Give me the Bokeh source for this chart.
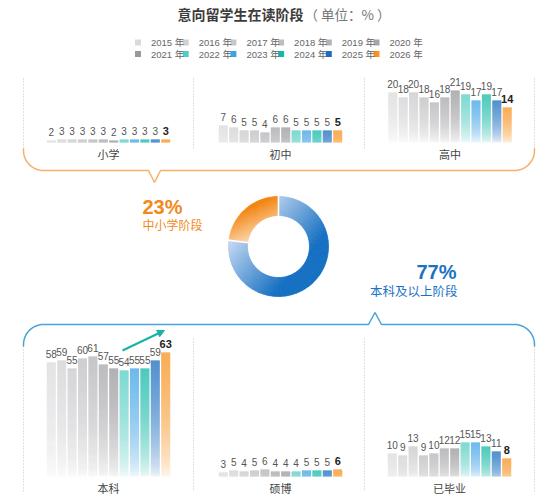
import math
import numpy as np
from bokeh.plotting import figure
from bokeh.models import Range1d, Arrow, NormalHead
from bokeh.core.properties import value
from bokeh.embed import file_html
from bokeh.resources import INLINE

# ---------------- data ----------------
years = ["2015", "2016", "2017", "2018", "2019", "2020",
         "2021", "2022", "2023", "2024", "2025", "2026"]
year_colors = ["#dadadc", "#d1d1d4", "#c8c8cb", "#bebec1", "#b3b3b7", "#a6a6aa",
               "#98989c", "#55cdc3", "#3ea3e6", "#13b9a7", "#1a6dc0", "#f7921e"]

primary_school = [2, 3, 3, 3, 3, 3, 2, 3, 3, 3, 3, 3]
middle_school = [7, 6, 5, 5, 4, 6, 6, 5, 5, 5, 5, 5]
high_school = [20, 18, 20, 18, 16, 18, 21, 19, 17, 19, 17, 14]
bachelor = [58, 59, 55, 60, 61, 57, 55, 54, 55, 55, 59, 63]
master_phd = [3, 5, 4, 5, 6, 4, 4, 4, 5, 5, 5, 6]
graduated = [10, 9, 13, 9, 10, 12, 12, 15, 15, 13, 11, 8]

share_names = ["中小学阶段", "本科及以上阶段"]
share_values = [23, 77]

title_main = "意向留学生在读阶段"
title_unit = "（ 单位：% ）"

# ---------------- canvas (data units == screen pixels) ----------------
W, H = 554, 503
p = figure(width=W, height=H, output_backend="svg", toolbar_location=None,
           x_range=Range1d(0, W), y_range=Range1d(0, H),
           min_border=0, outline_line_color=None)
p.axis.visible = False
p.grid.visible = False
p.background_fill_color = "white"
p.border_fill_color = "white"

def Y(sy):
    return H - sy

NUM_FONT = value("Liberation Sans, Noto Sans CJK SC")
CJK_FONT = value("Noto Sans CJK SC")

def hex2rgb(h):
    h = h.lstrip("#")
    return tuple(int(h[i:i + 2], 16) for i in (0, 2, 4))

def mix(c1, c2, t):
    a, b = hex2rgb(c1), hex2rgb(c2)
    return "#%02x%02x%02x" % tuple(int(round(a[i] + (b[i] - a[i]) * t)) for i in range(3))

# ---------------- title & legend ----------------
p.text(x=[303], y=[Y(13)], text=[title_main], text_font=CJK_FONT, text_font_size="14px",
       text_font_style="bold", text_color="#3c3c3c", text_align="right", text_baseline="middle")
p.text(x=[304], y=[Y(13)], text=[title_unit], text_font=CJK_FONT, text_font_size="13.5px",
       text_color="#777777", text_align="left", text_baseline="middle")

lg_x, lg_y, lg_t = [], [], []
for i, yr in enumerate(years):
    row, col = divmod(i, 6)
    lg_x.append(137.5 + col * 47.7)
    lg_y.append(Y(42 + row * 11.6))
    lg_t.append(yr + " 年")
p.rect(x=lg_x, y=lg_y, width=6, height=6, fill_color=year_colors, line_color=None)
p.text(x=[x + 13 for x in lg_x], y=lg_y, text=lg_t, text_font=NUM_FONT, text_font_size="9.5px",
       text_color="#666666", text_align="left", text_baseline="middle")

# ---------------- bar panels ----------------
# (name, values, center x, baseline y, px per unit, label y)
panels = [
    ("小学", primary_school, 108, 142, 1.1, 153),
    ("初中", middle_school, 280, 142, 2.45, 153),
    ("高中", high_school, 449.5, 142, 2.5, 153),
    ("本科", bachelor, 108, 476, 1.97, 487),
    ("硕博", master_phd, 280, 476, 1.2, 487),
    ("已毕业", graduated, 449, 476, 2.3, 487),
]
pitch, bw = 10.4, 9.0

qL, qR, qT, qB, qC, qA = [], [], [], [], [], []
vx, vy, vt = [], [], []
bx, by, bt = [], [], []
cat_x, cat_y, cat_t = [], [], []
for name, vals, cx, base, k, ly in panels:
    left0 = cx - pitch * len(vals) / 2
    for i, v in enumerate(vals):
        h = max(1, int(round(v * k)))
        x0 = left0 + i * pitch + (pitch - bw) / 2
        floor = min(max(1 - h / 40.0, 0.06), 1.0)
        for j in range(h):
            f = (j + 0.5) / h
            qL.append(x0); qR.append(x0 + bw)
            qB.append(Y(base - j)); qT.append(Y(base - j - 1))
            qC.append(year_colors[i])
            qA.append(floor + (1 - floor) * f ** 0.7)
        tx, ty = x0 + bw / 2, Y(base - h - 8.5)
        if i == len(vals) - 1:
            bx.append(tx); by.append(ty); bt.append(str(v))
        else:
            vx.append(tx); vy.append(ty); vt.append(str(v))
    cat_x.append(cx); cat_y.append(Y(ly)); cat_t.append(name)

p.quad(left=qL, right=qR, top=qT, bottom=qB, fill_color=qC, fill_alpha=qA, line_color=None)
p.text(x=vx, y=vy, text=vt, text_font=NUM_FONT, text_font_size="10px", text_color="#555555",
       text_align="center", text_baseline="middle")
p.text(x=bx, y=by, text=bt, text_font=NUM_FONT, text_font_size="11px", text_font_style="bold",
       text_color="#1e1e1e", text_align="center", text_baseline="middle")
p.text(x=cat_x, y=cat_y, text=cat_t, text_font=CJK_FONT, text_font_size="11px", text_color="#444444",
       text_align="center", text_baseline="middle")

# ---------------- dotted separators ----------------
sep_x = [23, 193, 364, 534]
dash_xs, dash_ys = [], []
for x in sep_x:
    dash_xs.append([x, x]); dash_ys.append([Y(78), Y(148)])
    top = 346 if x in (23, 534) else 338
    dash_xs.append([x, x]); dash_ys.append([Y(top), Y(491)])
p.multi_line(xs=dash_xs, ys=dash_ys, line_color="#c4c4c4", line_width=1, line_dash="1 2")

# ---------------- brackets ----------------
t = np.linspace(0, math.pi / 2, 16)
r = 20
ob_x = [23] + list(43 - r * np.cos(t)) + [148, 154, 160] + list(514 + r * np.sin(t)) + [534]
ob_y = [148] + list(150 + r * np.sin(t)) + [170, 182, 170] + list(150 + r * np.cos(t)) + [148]
p.line(x=ob_x, y=[Y(v) for v in ob_y], line_color="#f6b168", line_width=1.5)

bb_x = [23] + list(43 - r * np.cos(t)) + [368, 374.5, 381] + list(514 + r * np.sin(t)) + [534]
bb_y = [346] + list(344 - r * np.sin(t)) + [324, 312, 324] + list(344 - r * np.cos(t)) + [346]
p.line(x=bb_x, y=[Y(v) for v in bb_y], line_color="#4aa2dc", line_width=1.5)

# trend arrow on 本科
teal = "#17b3a3"
p.add_layout(Arrow(end=NormalHead(size=7, fill_color=teal, line_color=teal),
                   x_start=122, y_start=Y(350), x_end=164, y_end=Y(330),
                   line_color=teal, line_width=2))

# ---------------- donut ----------------
dcx, dcy = 278, Y(246)
r_in, r_out = 31, 50
total = float(sum(share_values))
a0 = 90.0
w_x, w_y, w_ri, w_ro, w_sa, w_ea, w_c = [], [], [], [], [], [], []
seg_specs = [
    # light, dark, gradient direction (deg), t-range
    ("#fde4c8", "#f28512", 115.0, 0.25, 0.95),
    ("#c3d7f1", "#1670c2", -40.0, -0.80, 0.55),
]
bounds = []
for idx, sv in enumerate(share_values):
    span = 360.0 * sv / total
    s_ang, e_ang = a0, a0 + span
    bounds.append(s_ang)
    light, dark, ddeg, ta, tb = seg_specs[idx]
    dvec = (math.cos(math.radians(ddeg)), math.sin(math.radians(ddeg)))
    n = int(math.ceil(span / 2.0))
    nr = 6
    for s in range(n):
        sa = s_ang + span * s / n
        ea = s_ang + span * (s + 1) / n
        ma = math.radians((sa + ea) / 2)
        for q in range(nr):
            ri = r_in + (r_out - r_in) * q / nr
            ro = r_in + (r_out - r_in) * (q + 1) / nr
            rm = (ri + ro) / 2 / r_out
            proj = rm * (math.cos(ma) * dvec[0] + math.sin(ma) * dvec[1])
            tt = min(max((proj - ta) / (tb - ta), 0.0), 1.0)
            w_x.append(dcx); w_y.append(dcy)
            w_ri.append(ri); w_ro.append(ro)
            w_sa.append(math.radians(sa)); w_ea.append(math.radians(min(ea + 0.4, e_ang)))
            w_c.append(mix(light, dark, tt))
    a0 = e_ang

p.annular_wedge(x=w_x, y=w_y, inner_radius=w_ri, outer_radius=w_ro, start_angle=w_sa, end_angle=w_ea,
                inner_radius_units="screen", outer_radius_units="screen",
                fill_color=w_c, line_color=w_c, line_width=0.6)
sx0, sy0, sx1, sy1 = [], [], [], []
for b in bounds:
    rb = math.radians(b)
    sx0.append(dcx + (r_in - 1) * math.cos(rb)); sy0.append(dcy + (r_in - 1) * math.sin(rb))
    sx1.append(dcx + (r_out + 1) * math.cos(rb)); sy1.append(dcy + (r_out + 1) * math.sin(rb))
p.segment(x0=sx0, y0=sy0, x1=sx1, y1=sy1, line_color="white", line_width=1.6)

orange, blue = "#f28a1a", "#1c72c2"
p.text(x=[142], y=[Y(206)], text=["%d%%" % share_values[0]], text_font=NUM_FONT, text_font_size="20px",
       text_font_style="bold", text_color=orange, text_align="left", text_baseline="middle")
p.text(x=[142], y=[Y(224)], text=[share_names[0]], text_font=CJK_FONT, text_font_size="12px",
       text_color=orange, text_align="left", text_baseline="middle")
p.text(x=[456], y=[Y(271)], text=["%d%%" % share_values[1]], text_font=NUM_FONT, text_font_size="20px",
       text_font_style="bold", text_color=blue, text_align="right", text_baseline="middle")
p.text(x=[457], y=[Y(290)], text=[share_names[1]], text_font=CJK_FONT, text_font_size="12.5px",
       text_color=blue, text_align="right", text_baseline="middle")

open("out.html", "w").write(file_html(p, INLINE))
